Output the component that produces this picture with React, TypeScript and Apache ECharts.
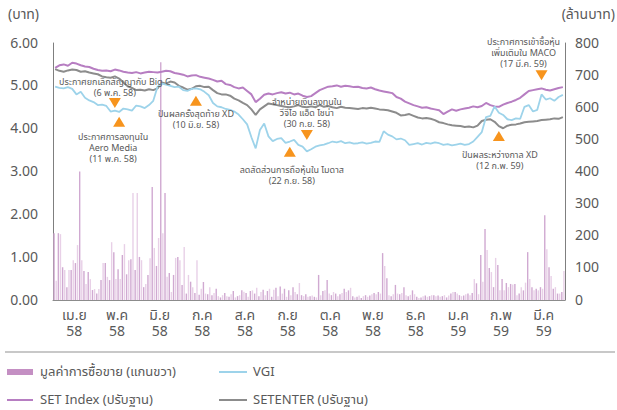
import React, { useEffect, useRef } from "react";
import * as echarts from "echarts";

// ---- data ----
const months = ["เม.ย", "พ.ค", "มิ.ย", "ก.ค", "ส.ค", "ก.ย", "ต.ค", "พ.ย", "ธ.ค", "ม.ค", "ก.พ", "มี.ค"];
const monthYears = ["58", "58", "58", "58", "58", "58", "58", "58", "58", "59", "59", "59"];
const leftTicks = [0, 1, 2, 3, 4, 5, 6];
const rightTicks = [0, 100, 200, 300, 400, 500, 600, 700, 800];

// SET Index (adjusted, baht scale)
const setIndex = [
  5.42, 5.48, 5.50, 5.47, 5.54, 5.52, 5.48, 5.45, 5.44, 5.40,
  5.37, 5.35, 5.36, 5.34, 5.38, 5.36, 5.33, 5.31, 5.30, 5.32,
  5.29, 5.31, 5.33, 5.32, 5.31, 5.33, 5.35, 5.34, 5.30, 5.28,
  5.26, 5.22, 5.24, 5.25, 5.21, 5.19, 5.17, 5.14, 5.10, 5.12,
  5.04, 5.02, 4.97, 4.94, 4.96, 4.88, 4.80, 4.62, 4.70, 4.79,
  4.82, 4.80, 4.83, 4.85, 4.82, 4.84, 4.80, 4.82, 4.77, 4.74,
  4.76, 4.83, 4.90, 4.94, 4.98, 4.99, 5.01, 4.98, 5.00, 4.99,
  4.97, 4.98, 4.95, 4.94, 4.96, 4.92, 4.89, 4.87, 4.85, 4.83,
  4.74, 4.70, 4.63, 4.59, 4.55, 4.52, 4.49, 4.50, 4.47, 4.45,
  4.43, 4.34, 4.40, 4.45, 4.42, 4.45, 4.47, 4.49, 4.52, 4.50,
  4.53, 4.60, 4.55, 4.52, 4.51, 4.56, 4.60, 4.63, 4.67, 4.72,
  4.80, 4.88, 4.90, 4.92, 4.94, 4.91, 4.89, 4.92, 4.95, 4.97,
];

// SETENTER (adjusted)
const setEnter = [
  5.39, 5.35, 5.33, 5.36, 5.38, 5.37, 5.33, 5.34, 5.31, 5.29,
  5.27, 5.22, 5.20, 5.19, 5.22, 5.17, 5.08, 4.99, 4.95, 4.90,
  4.91, 4.89, 4.92, 4.90, 4.94, 5.08, 5.05, 5.10, 5.08, 5.00,
  4.96, 4.91, 4.93, 4.99, 5.00, 4.97, 4.98, 4.90, 4.83, 4.80,
  4.80, 4.77, 4.70, 4.66, 4.60, 4.55, 4.45, 4.32, 4.45, 4.52,
  4.59, 4.57, 4.55, 4.53, 4.51, 4.50, 4.52, 4.55, 4.51, 4.50,
  4.52, 4.50, 4.55, 4.51, 4.53, 4.50, 4.48, 4.51, 4.49, 4.48,
  4.47, 4.46, 4.48, 4.47, 4.49, 4.47, 4.45, 4.44, 4.43, 4.40,
  4.37, 4.31, 4.32, 4.34, 4.30, 4.26, 4.24, 4.25, 4.23, 4.20,
  4.15, 4.13, 4.10, 4.08, 4.07, 4.06, 4.04, 4.05, 4.03, 4.07,
  4.18, 4.21, 4.22, 4.16, 4.06, 4.01, 4.07, 4.09, 4.10, 4.12,
  4.15, 4.16, 4.17, 4.18, 4.20, 4.21, 4.22, 4.24, 4.23, 4.27,
];

// VGI price
const vgi = [
  4.98, 4.95, 4.94, 4.97, 4.93, 4.80, 4.86, 4.72, 4.66, 4.62,
  4.55, 4.56, 4.53, 4.40, 4.42, 4.39, 4.47, 4.45, 4.42, 4.54,
  4.52, 4.48, 4.55, 4.65, 4.98, 5.05, 5.03, 5.00, 4.97, 4.98,
  4.90, 4.88, 4.93, 4.94, 4.92, 4.86, 4.78, 4.60, 4.52, 4.50,
  4.46, 4.44, 4.40, 4.33, 4.22, 4.10, 3.80, 3.54, 3.97, 4.12,
  3.82, 3.71, 3.76, 3.78, 3.67, 3.70, 3.74, 3.62, 3.58, 3.47,
  3.52, 3.58, 3.61, 3.63, 3.66, 3.70, 3.68, 3.71, 3.66, 3.68,
  3.65, 3.66, 3.68, 3.65, 3.67, 3.70, 3.69, 3.94, 3.86, 3.82,
  3.75, 3.77, 3.73, 3.62, 3.64, 3.66, 3.63, 3.67, 3.65, 3.68,
  3.66, 3.62, 3.64, 3.61, 3.63, 3.65, 3.62, 3.64, 3.70, 3.81,
  3.92, 4.27, 4.30, 4.52, 4.37, 4.32, 4.22, 4.20, 4.24, 4.23,
  4.51, 4.55, 4.40, 4.44, 4.80, 4.68, 4.71, 4.65, 4.74, 4.79,
];

// trading value (million baht), two sessions per slot
const turnoverA = [
  208, 208, 102, 40, 93, 115, 400, 90, 87, 31,
  20, 62, 115, 62, 149, 96, 140, 80, 127, 93,
  134, 40, 78, 352, 106, 740, 333, 84, 78, 134,
  47, 20, 57, 22, 16, 56, 18, 15, 35, 8,
  22, 10, 28, 12, 30, 22, 28, 20, 12, 32,
  28, 10, 38, 42, 35, 30, 40, 18, 15, 18,
  12, 10, 78, 28, 62, 15, 20, 18, 35, 30,
  12, 10, 6, 15, 14, 22, 25, 146, 68, 12,
  47, 18, 40, 12, 30, 10, 8, 14, 12, 15,
  14, 12, 8, 20, 25, 15, 14, 20, 22, 52,
  140, 221, 100, 40, 109, 65, 53, 50, 50, 20,
  30, 149, 40, 35, 40, 264, 102, 35, 20, 25,
];
const turnoverB = [
  60, 205, 93, 93, 124, 171, 124, 50, 65, 34,
  34, 115, 72, 180, 65, 65, 174, 124, 333, 333,
  124, 50, 130, 162, 193, 208, 72, 25, 131, 124,
  165, 78, 40, 124, 35, 20, 40, 22, 12, 15,
  12, 18, 8, 15, 26, 10, 30, 38, 25, 15,
  35, 32, 12, 20, 10, 15, 25, 53, 12, 10,
  14, 8, 15, 30, 20, 25, 12, 22, 25, 38,
  8, 14, 12, 10, 18, 18, 20, 106, 15, 18,
  20, 22, 15, 16, 18, 6, 12, 10, 15, 12,
  10, 15, 14, 25, 20, 12, 18, 15, 65, 18,
  57, 156, 87, 131, 30, 30, 40, 48, 15, 40,
  54, 65, 30, 30, 35, 158, 75, 40, 20, 90,
];

// events: slot index, price level, direction, text
const eventSlots = [14, 15, 33, 59, 55, 114, 104];
const eventPrices = [4.6, 4.16, 4.65, 3.85, 3.46, 5.25, 3.83];
const eventDown = [true, false, false, true, false, true, false];
const eventTexts = [
  "ประกาศยกเลิกสัญญากับ Big C\n(6 พ.ค. 58)",
  "ประกาศการลงทุนใน\nAero Media\n(11 พ.ค. 58)",
  "ปันผลครั้งสุดท้าย XD\n(10 มิ.ย. 58)",
  "จำหน่ายเงินลงทุนใน\nวีจีไอ แอ็ด ไชน่า\n(30 ก.ย. 58)",
  "ลดสัดส่วนการถือหุ้นใน ไมดาส\n(22 ก.ย. 58)",
  "ประกาศการเข้าซื้อหุ้น\nเพิ่มเติมใน MACO\n(17 มี.ค. 59)",
  "ปันผลระหว่างกาล XD\n(12 ก.พ. 59)",
];

const FONT = "Tahoma, 'Noto Sans Thai', 'Noto Sans', sans-serif";
const TXT = "#595959";
const C_SET = "#B77EC2";
const C_ENTER = "#8C8C8C";
const C_VGI = "#9DD3EA";
const C_BAR = "#C48FC3";

export default function App() {
  const ref = useRef<HTMLDivElement>(null);
  useEffect(() => {
    if (!ref.current) return;
    const chart = echarts.init(ref.current, undefined, { renderer: "svg" });
    const slots = setIndex.map((_, i) => String(i));
    const labelDx = [0, -6, 0, 0, 2, -18, 1];
    const labelDist = [-1, 5, 3, 1, 8, 1, 8.5];
    const markData = eventSlots.map((s, k) => ({
      coord: [s, eventPrices[k]],
      symbol: "triangle",
      symbolSize: [12, 10],
      symbolRotate: eventDown[k] ? 180 : 0,
      itemStyle: { color: "#F7941D" },
      label: {
        show: true,
        formatter: eventTexts[k],
        position: eventDown[k] ? "top" : "bottom",
        distance: labelDist[k],
        offset: [labelDx[k], 0],
        color: TXT,
        fontSize: 9,
        lineHeight: 11,
        fontFamily: FONT,
        align: "center",
      },
    }));
    chart.setOption({
      animation: false,
      textStyle: { fontFamily: FONT },
      grid: { left: 53, right: 52, top: 43, bottom: 110 },
      xAxis: [
        { type: "category", data: slots, boundaryGap: true, show: false },
        {
          type: "category",
          data: months,
          position: "bottom",
          boundaryGap: true,
          axisLine: { lineStyle: { color: "#8C8C8C", width: 1 } },
          axisTick: { inside: true, length: 6, lineStyle: { color: "#404040" } },
          axisLabel: {
            interval: 0,
            color: TXT,
            fontSize: 14,
            lineHeight: 16,
            margin: 7,
            fontFamily: FONT,
            formatter: (v: string, i: number) => v + "\n" + monthYears[i],
          },
        },
      ],
      yAxis: [
        {
          type: "value",
          min: leftTicks[0],
          max: leftTicks[leftTicks.length - 1],
          interval: 1,
          axisLine: { show: true, lineStyle: { color: "#7F7F7F" } },
          axisTick: { show: false },
          splitLine: { show: false },
          axisLabel: { color: TXT, fontSize: 14, margin: 15, fontFamily: FONT, formatter: (v: number) => v.toFixed(2) },
        },
        {
          type: "value",
          min: rightTicks[0],
          max: rightTicks[rightTicks.length - 1],
          interval: 100,
          position: "right",
          axisLine: { show: true, lineStyle: { color: "#7F7F7F" } },
          axisTick: { show: false },
          splitLine: { show: false },
          axisLabel: { color: TXT, fontSize: 14, margin: 10, fontFamily: FONT },
        },
      ],
      series: [
        {
          name: "มูลค่าการซื้อขาย (แกนขวา)",
          type: "bar",
          xAxisIndex: 0,
          yAxisIndex: 1,
          data: turnoverA,
          barWidth: 1.4,
          barGap: "50%",
          itemStyle: { color: "#D0A9D1" },
        },
        {
          name: "มูลค่าการซื้อขาย (แกนขวา) 2",
          type: "bar",
          xAxisIndex: 0,
          yAxisIndex: 1,
          data: turnoverB,
          barWidth: 1.4,
          itemStyle: { color: "#E8D0E7" },
        },
        {
          name: "SETENTER (ปรับฐาน)",
          type: "line",
          xAxisIndex: 0,
          yAxisIndex: 0,
          data: setEnter,
          showSymbol: false,
          lineStyle: { color: C_ENTER, width: 2 },
          itemStyle: { color: C_ENTER },
        },
        {
          name: "SET Index (ปรับฐาน)",
          type: "line",
          xAxisIndex: 0,
          yAxisIndex: 0,
          data: setIndex,
          showSymbol: false,
          lineStyle: { color: C_SET, width: 2 },
          itemStyle: { color: C_SET },
        },
        {
          name: "VGI",
          type: "line",
          xAxisIndex: 0,
          yAxisIndex: 0,
          data: vgi,
          showSymbol: false,
          lineStyle: { color: C_VGI, width: 1.8 },
          itemStyle: { color: C_VGI },
          markPoint: { data: markData, silent: true },
        },
      ],
      graphic: [
        { type: "text", left: 8, top: 7, style: { text: "(บาท)", fill: TXT, fontSize: 14, fontFamily: FONT } },
        { type: "text", right: 2, top: 7, style: { text: "(ล้านบาท)", fill: TXT, fontSize: 14, fontFamily: FONT } },
        { type: "line", shape: { x1: 5, y1: 352, x2: 615, y2: 352 }, style: { stroke: "#C8C8C8", lineWidth: 2 } },
        { type: "rect", shape: { x: 7, y: 369, width: 26, height: 6 }, style: { fill: C_BAR } },
        { type: "text", x: 40, y: 372, style: { text: "มูลค่าการซื้อขาย (แกนขวา)", fill: TXT, fontSize: 13, fontFamily: FONT, verticalAlign: "middle" } },
        { type: "line", shape: { x1: 219, y1: 372, x2: 247, y2: 372 }, style: { stroke: C_VGI, lineWidth: 2 } },
        { type: "text", x: 253, y: 372, style: { text: "VGI", fill: TXT, fontSize: 13, fontFamily: FONT, verticalAlign: "middle" } },
        { type: "line", shape: { x1: 7, y1: 400, x2: 33, y2: 400 }, style: { stroke: C_SET, lineWidth: 2 } },
        { type: "text", x: 40, y: 400, style: { text: "SET Index (ปรับฐาน)", fill: TXT, fontSize: 13, fontFamily: FONT, verticalAlign: "middle" } },
        { type: "line", shape: { x1: 219, y1: 400, x2: 247, y2: 400 }, style: { stroke: C_ENTER, lineWidth: 2 } },
        { type: "text", x: 253, y: 400, style: { text: "SETENTER (ปรับฐาน)", fill: TXT, fontSize: 13, fontFamily: FONT, verticalAlign: "middle" } },
      ],
    });
    return () => chart.dispose();
  }, []);
  return <div ref={ref} style={{ width: 617, height: 410, position: "absolute", left: 0, top: 0 }} />;
}
